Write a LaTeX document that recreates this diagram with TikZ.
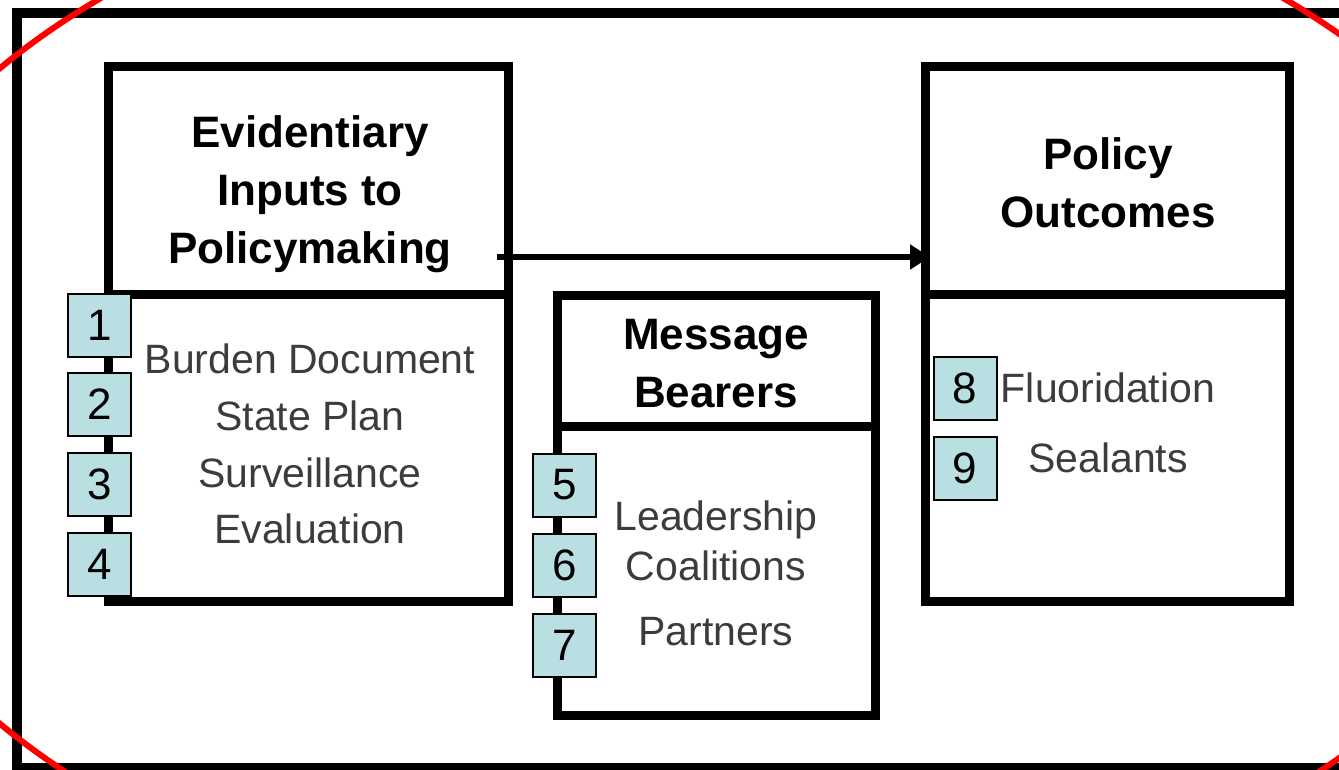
\documentclass[tikz,border=0pt]{standalone}
\usepackage{fontspec}
\setmainfont{Liberation Sans}
\usetikzlibrary{arrows.meta}
\definecolor{numfill}{RGB}{186,223,226}
\definecolor{itemgray}{RGB}{60,60,60}

\begin{document}
\begin{tikzpicture}[x=1pt,y=-1pt,
    box/.style={draw, line width=9pt, outer sep=0pt, inner sep=0pt},
    heading/.style={align=center, font=\fontsize{44}{58}\selectfont\bfseries},
    item/.style={anchor=base, text=itemgray, font=\fontsize{41}{49}\selectfont},
    numbox/.style={draw, line width=2pt, fill=numfill, minimum width=63pt,
        minimum height=63pt, inner sep=0pt, font=\fontsize{44}{53}\selectfont},
    flow/.style={-{Triangle[length=20pt,width=24pt]}, line width=6pt}]
    \useasboundingbox (0,0) rectangle (1339,770);

    % outer frame
    \draw[line width=10pt] (17,13) rectangle (1350,768);

    % evidentiary inputs
    \node[box, minimum width=400pt, minimum height=227pt] (evtitle) at (308,180.5) {};
    \node[box, minimum width=400pt, minimum height=307pt] (evbody) at (308,447.5) {};
    \node[heading] (evhead) at (310,194) {Evidentiary\\Inputs to\\Policymaking};
    \node[item] (burden) at (310,373) {Burden Document};
    \node[item] (plan) at (310,430) {State Plan};
    \node[item] (surv) at (310,487) {Surveillance};
    \node[item] (eval) at (310,543) {Evaluation};
    \node[numbox] (n1) at (99.5,325) {1};
    \node[numbox] (n2) at (99.5,404.5) {2};
    \node[numbox] (n3) at (99.5,484.5) {3};
    \node[numbox] (n4) at (99.5,564.5) {4};

    % message bearers
    \node[box, minimum width=318pt, minimum height=131pt] (mbtitle) at (716,360.5) {};
    \node[box, minimum width=318pt, minimum height=289pt] (mbbody) at (716,570.5) {};
    \node[heading] (mbhead) at (716,364) {Message\\Bearers};
    \node[item] (lead) at (716,530) {Leadership};
    \node[item] (coal) at (716,580) {Coalitions};
    \node[item] (part) at (716,645) {Partners};
    \node[numbox] (n5) at (564.5,485) {5};
    \node[numbox] (n6) at (564.5,565) {6};
    \node[numbox] (n7) at (564.5,645) {7};

    % policy outcomes
    \node[box, minimum width=364pt, minimum height=227pt] (outtitle) at (1107,180.5) {};
    \node[box, minimum width=364pt, minimum height=307pt] (outbody) at (1107,447.5) {};
    \node[heading] (outhead) at (1108,183) {Policy\\Outcomes};
    \node[item] (fluor) at (1108,402) {Fluoridation};
    \node[item] (seal) at (1108,472) {Sealants};
    \node[numbox] (n8) at (965,388.5) {8};
    \node[numbox] (n9) at (965,468.5) {9};

    % inputs lead to outcomes
    \draw[flow] ([xshift=-11pt,yshift=37pt]evtitle.south east)
        -- ([xshift=5pt,yshift=37pt]outtitle.south west);

    % red ring round everything
    \draw[red, line width=6pt] (692,396) ellipse [x radius=867, y radius=544];
\end{tikzpicture}
\end{document}
